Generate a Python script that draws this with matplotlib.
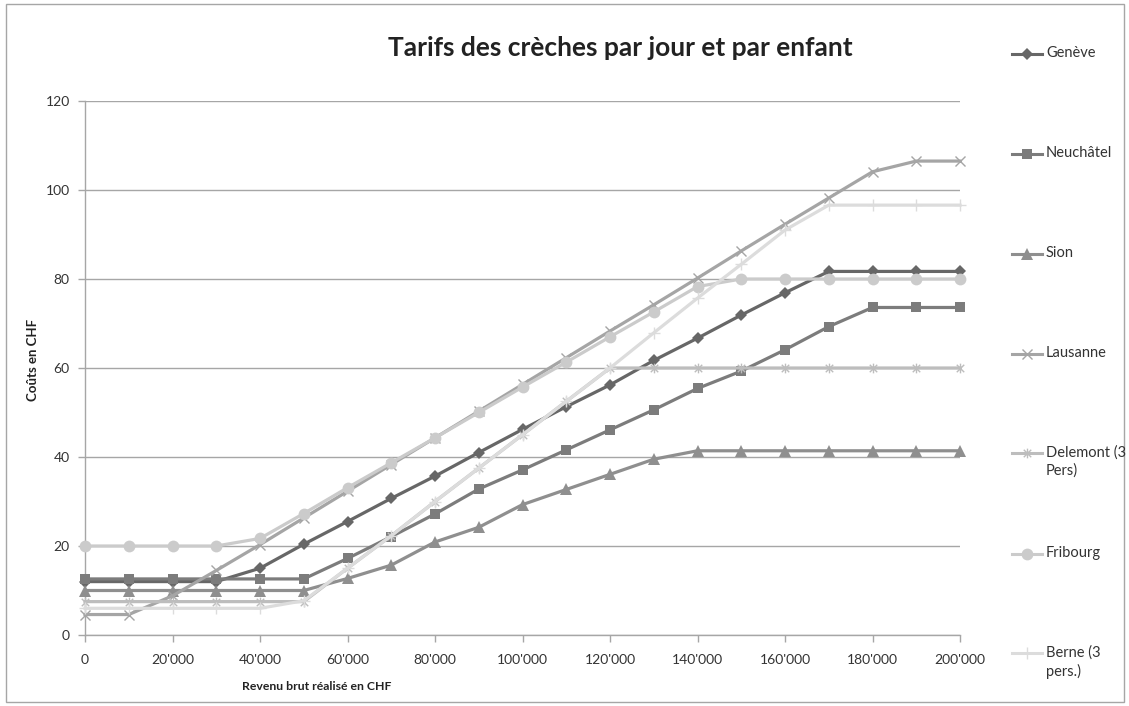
import matplotlib
matplotlib.use("Agg")
import matplotlib.pyplot as plt
from matplotlib.path import Path
from matplotlib.lines import Line2D
from matplotlib.patches import Rectangle

plt.rcParams['font.family'] = ['Lato', 'DejaVu Sans']

# ---- data ----
income = [0, 10000, 20000, 30000, 40000, 50000, 60000, 70000, 80000, 90000, 100000,
          110000, 120000, 130000, 140000, 150000, 160000, 170000, 180000, 190000, 200000]
tick_values = [0, 20000, 40000, 60000, 80000, 100000, 120000, 140000, 160000, 180000, 200000]
tick_labels = ["0", "20'000", "40'000", "60'000", "80'000", "100'000", "120'000",
               "140'000", "160'000", "180'000", "200'000"]

geneve = [12, 12, 12, 12, 15, 20.4, 25.5, 30.7, 35.7, 41, 46.2, 51.3, 56.2, 61.7, 66.7,
          71.9, 76.9, 81.7, 81.7, 81.7, 81.7]
neuchatel = [12.6, 12.6, 12.6, 12.6, 12.6, 12.6, 17.2, 22.1, 27.2, 32.8, 37.1, 41.6, 46.1,
             50.6, 55.4, 59.3, 64.1, 69.3, 73.6, 73.6, 73.6]
sion = [10, 10, 10, 10, 10, 10, 12.7, 15.7, 20.9, 24.2, 29.3, 32.7, 36.1, 39.5, 41.4,
        41.4, 41.4, 41.4, 41.4, 41.4, 41.4]
lausanne = [4.6, 4.6, 8.8, 14.5, 20.3, 26.3, 32.3, 38.3, 44.3, 50.3, 56.3, 62.3, 68.3,
            74.2, 80.2, 86.3, 92.3, 98.2, 104.1, 106.5, 106.5]
delemont = [7.5, 7.5, 7.5, 7.5, 7.5, 7.5, 15, 22.3, 30, 37.5, 45, 52.5, 60, 60, 60, 60,
            60, 60, 60, 60, 60]
fribourg = [20, 20, 20, 20, 21.7, 27.3, 33.1, 38.7, 44.3, 50, 55.7, 61.3, 67, 72.6, 78.3,
            80, 80, 80, 80, 80, 80]
berne = [6, 6, 6, 6, 6, 7.7, 15, 22.3, 30, 37.5, 45, 52.5, 60, 67.9, 75.7, 83.3, 91,
         96.6, 96.6, 96.6, 96.6]

series_names = ["Genève", "Neuchâtel", "Sion", "Lausanne", "Delemont (3\nPers)",
                "Fribourg", "Berne (3\npers.)"]
series_values = [geneve, neuchatel, sion, lausanne, delemont, fribourg, berne]

asterisk = Path([(-1, -1), (1, 1), (-1, 1), (1, -1), (0, -1.3), (0, 1.3)],
                [Path.MOVETO, Path.LINETO, Path.MOVETO, Path.LINETO, Path.MOVETO, Path.LINETO])

styles = [
    dict(color='#676767', marker='D', ms=6, mew=0),
    dict(color='#7c7c7c', marker='s', ms=7.5, mew=0),
    dict(color='#8f8f8f', marker='^', ms=8, mew=0),
    dict(color='#a5a5a5', marker='x', ms=7, mew=1.0),
    dict(color='#bdbdbd', marker=asterisk, ms=7, mew=1.0, mfc='none'),
    dict(color='#cbcbcb', marker='o', ms=8.5, mew=0),
    dict(color='#dcdcdc', marker='+', ms=8, mew=1.0),
]

W, H = 1129, 706
fig = plt.figure(figsize=(W / 100, H / 100), dpi=100)
ax = fig.add_axes([85 / W, 1 - 635 / H, (960 - 85) / W, (635 - 101) / H])

for vals, st in zip(series_values, styles):
    ax.plot(income, vals, lw=2.3, clip_on=False, zorder=3, **st)

ax.set_xlim(0, 200000)
ax.set_ylim(0, 120)
ax.set_yticks(range(0, 121, 20))
ax.set_xticks(tick_values)
ax.set_xticklabels(tick_labels)
ax.grid(axis='y', color='#a6a6a6', lw=1)
ax.set_axisbelow(True)
for s in ['top', 'right']:
    ax.spines[s].set_visible(False)
for s in ['left', 'bottom']:
    ax.spines[s].set_color('#a6a6a6')
    ax.spines[s].set_linewidth(1)
ax.tick_params(axis='both', colors='#a6a6a6', labelcolor='#333333', labelsize=10,
               length=5, width=1)
ax.tick_params(axis='y', pad=6)
ax.tick_params(axis='x', pad=9)

fig.text(620 / W, 1 - 48 / H, "Tarifs des crèches par jour et par enfant",
         ha='center', va='center', fontsize=19, fontweight='bold', color='#222222')
fig.text(33 / W, 1 - 360 / H, "Coûts en CHF", rotation=90, ha='center', va='center',
         fontsize=9.5, fontweight='bold', color='#222222')
fig.text(317 / W, 1 - 686 / H, "Revenu brut réalisé en CHF", ha='center', va='center',
         fontsize=8.8, fontweight='bold', color='#222222')

# legend (manual, Excel-like spacing)
leg_y = [54, 154, 254, 354, 453, 554, 653]
for name, st, y in zip(series_names, styles, leg_y):
    yf = 1 - y / H
    fig.add_artist(Line2D([1012 / W, 1042 / W], [yf, yf], transform=fig.transFigure,
                          color=st['color'], lw=2.2))
    mk = {k: v for k, v in st.items() if k != 'color'}
    fig.add_artist(Line2D([1027 / W], [yf], transform=fig.transFigure,
                          color=st['color'], lw=0, **mk))
    fig.text(1046 / W, 1 - (y - 8) / H, name, ha='left', va='top', fontsize=10.5,
             color='#333333', linespacing=1.35)

fig.add_artist(Rectangle((6 / W, 4 / H), (1124 - 6) / W, (702 - 4) / H,
                         transform=fig.transFigure, fill=False, ec='#a6a6a6', lw=1))

fig.savefig("out.png", dpi=100)
